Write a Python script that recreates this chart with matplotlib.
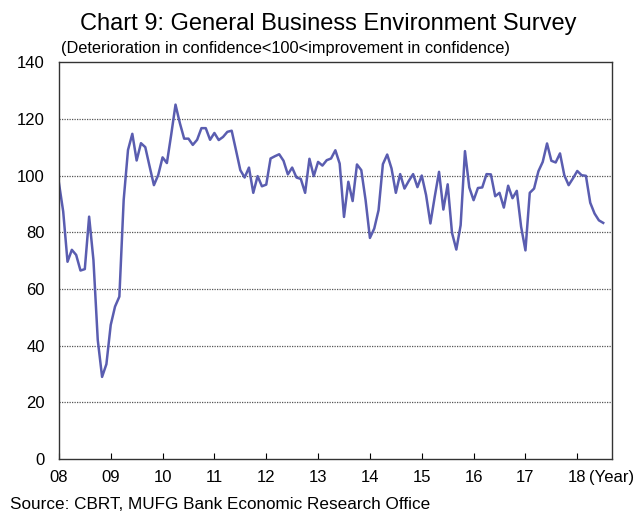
import numpy as np
import matplotlib
matplotlib.use("Agg")
import matplotlib.pyplot as plt

plt.rcParams['font.family'] = ['Liberation Sans', 'DejaVu Sans']

# Monthly index, Jan 2008 .. Jul 2018
start_year = 2008
values = [
    97.5, 87.3, 69.6, 73.8, 72.0, 66.5, 67.0, 85.5, 70.2, 42.0, 29.0, 33.5,
    47.3, 53.8, 57.3, 91.4, 109.0, 114.7, 105.3, 111.4, 110.0, 103.2, 96.6, 100.2,
    106.4, 104.4, 114.4, 125.0, 118.5, 113.0, 113.0, 110.8, 112.6, 116.7, 116.7, 112.6,
    115.0, 112.5, 113.6, 115.4, 115.8, 108.9, 101.9, 99.3, 102.8, 93.9, 99.8, 96.2,
    96.8, 106.0, 106.8, 107.5, 105.2, 100.4, 102.8, 99.3, 98.8, 93.9, 105.9, 99.8,
    104.8, 103.5, 105.4, 106.0, 108.9, 104.2, 85.4, 97.8, 91.0, 103.9, 101.9, 91.3,
    78.0, 81.3, 87.8, 104.0, 107.4, 102.5, 93.9, 100.5, 95.4, 98.1, 100.5, 95.9,
    100.0, 93.1, 83.1, 92.5, 101.3, 88.0, 96.9, 79.8, 73.9, 82.5, 108.6, 95.8,
    91.3, 95.6, 95.8, 100.5, 100.4, 92.7, 93.9, 88.7, 96.4, 92.0, 94.6, 81.9,
    73.6, 93.9, 95.4, 101.5, 104.8, 111.3, 105.2, 104.6, 107.8, 100.1, 96.6, 99.0,
    101.6, 100.1, 99.9, 90.4, 86.6, 84.2, 83.3,
]
year_labels = ['08', '09', '10', '11', '12', '13', '14', '15', '16', '17', '18']
y_ticks = [0, 20, 40, 60, 80, 100, 120, 140]

x = start_year + np.arange(len(values)) / 12.0

fig = plt.figure(figsize=(6.4, 5.13), dpi=100)
ax = fig.add_axes([0.092, 0.105, 0.864, 0.774])

ax.plot(x, values, color='#5a5db0', lw=1.8, solid_joinstyle='round')

ax.set_xlim(start_year, start_year + 128 / 12.0)
ax.set_ylim(0, 140)
ax.set_yticks(y_ticks)
ax.set_yticklabels([str(t) for t in y_ticks], fontsize=12)
ax.set_xticks([start_year + i for i in range(len(year_labels))])
ax.set_xticklabels(year_labels, fontsize=12)
ax.tick_params(axis='x', direction='in', length=4, width=0.8, pad=8)
ax.tick_params(axis='y', length=0, pad=10)

for t in y_ticks[1:-1]:
    ax.axhline(t, color='#555555', lw=0.9, ls=(0, (1, 1)), zorder=0)

for s in ax.spines.values():
    s.set_linewidth(1.0)
    s.set_color('#333333')

fig.text(0.921, 0.069, '(Year)', fontsize=12, ha='left', va='center')
fig.text(0.5125, 0.954, 'Chart 9: General Business Environment Survey',
         fontsize=17, ha='center', va='center')
fig.text(0.096, 0.905, '(Deterioration in confidence<100<improvement in confidence)',
         fontsize=11.8, ha='left', va='center')
fig.text(0.016, 0.016, 'Source: CBRT, MUFG Bank Economic Research Office',
         fontsize=12.3, ha='left', va='center')

fig.savefig('out.png', dpi=100)
